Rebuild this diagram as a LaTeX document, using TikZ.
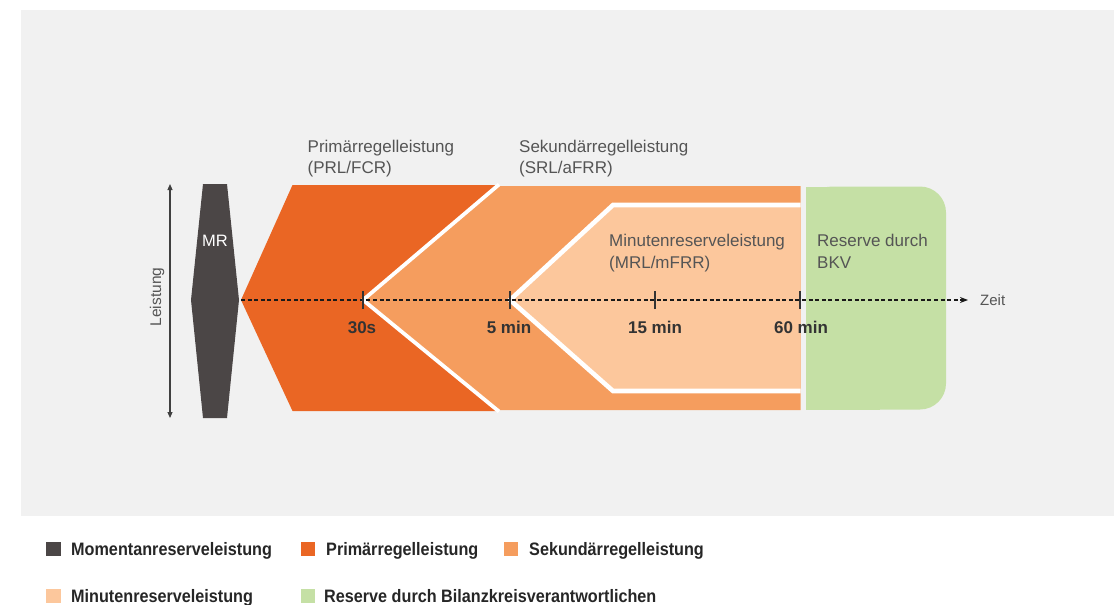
\documentclass[tikz,border=0pt]{standalone}
\usepackage{fontspec}
\setmainfont{Liberation Sans}
\newfontfamily\legfont[FakeStretch=0.9]{Liberation Sans}
\usetikzlibrary{arrows.meta}
\definecolor{bgc}{HTML}{F1F1F1}
\definecolor{mrc}{HTML}{4B4646}
\definecolor{prlc}{HTML}{EA6624}
\definecolor{srlc}{HTML}{F59D5E}
\definecolor{mrlc}{HTML}{FCC79C}
\definecolor{bkvc}{HTML}{C5E0A5}
\definecolor{labc}{HTML}{555555}
\definecolor{tickc}{HTML}{333333}
\tikzset{
  lab/.style={inner sep=0pt, anchor=north west, align=left, text=labc,
    font=\fontsize{17}{21.5}\selectfont},
  ticklab/.style={inner sep=0pt, anchor=base, text=tickc,
    font=\fontsize{17}{20}\selectfont\bfseries},
  tickmark/.style={draw=tickc, line width=2.4pt},
  sepline/.style={draw=white, line join=miter},
  legsq/.style={inner sep=0pt, minimum width=14.5pt, minimum height=14.5pt, anchor=north west},
  legtxt/.style={inner sep=0pt, anchor=base west, text=black!85,
    font=\legfont\fontsize{18}{20}\selectfont\bfseries},
}
\begin{document}
\begin{tikzpicture}[x=1pt,y=-1pt]
\useasboundingbox (0,0) rectangle (1120,605);
\fill[bgc] (21,10) rectangle (1114,516);

% shapes
\fill[mrc] (203,184) -- (227,184) -- (239,300) -- (227,418) -- (203,418) -- (191,300) -- cycle;
\fill[prlc] (292.5,185) -- (497,185) -- (363,300) -- (497,411) -- (292.5,411) -- (241,300) -- cycle;
\fill[srlc] (497,186) -- (800.7,186) -- (800.7,410) -- (497,410) -- (363,300) -- cycle;
\draw[sepline, line width=3.8pt] (499,184.5) -- (363,300) -- (499,411.5);
\fill[mrlc] (613,205) -- (800.7,205) -- (800.7,391) -- (613,391) -- (510,300) -- cycle;
\draw[sepline, line width=4.6pt] (800.7,205) -- (613,205) -- (510,300) -- (613,391) -- (800.7,391);
\fill[bkvc, rounded corners=26pt] (806,186.5) rectangle (946,409.5);
\fill[bkvc] (806,186.5) rectangle (880,409.5);

% MR label
\node[inner sep=0pt, anchor=base, text=white, font=\fontsize{16.5}{18}\selectfont] (mr) at (215,246.5) {MR};

% Leistung axis
\coordinate (ltop) at (170,184);
\coordinate (lbot) at (170,418);
\draw[draw=black!75, line width=1.1pt, {Triangle[length=6pt,width=5pt]}-{Triangle[length=6pt,width=5pt]}] (ltop) -- (lbot);
\node[inner sep=0pt, rotate=90, text=labc, font=\fontsize{15.5}{18}\selectfont] (leist) at (157,297) {Leistung};

% time axis
\coordinate (t0) at (241,300);
\coordinate (t1) at (363,300);
\coordinate (t2) at (510,300);
\coordinate (t3) at (655,300);
\coordinate (t4) at (800,300);
\coordinate (tend) at (968,300);
\draw[line width=1.4pt, draw=black!90, dash pattern=on 4pt off 2.6pt, -{Stealth[length=8pt,width=6pt]}] (t0) -- (tend);
\node[inner sep=0pt, anchor=west, text=labc, font=\fontsize{15}{18}\selectfont] (zeit) at (980,300) {Zeit};
\foreach \c in {t1,t2,t3,t4}{
  \draw[tickmark] ([yshift=-9pt]\c) -- ([yshift=9pt]\c);
}
\node[ticklab] (l30) at (362,333) {30s};
\node[ticklab] (l5) at (509,333) {5 min};
\node[ticklab] (l15) at (655,333) {15 min};
\node[ticklab] (l60) at (801,333) {60 min};

% labels
\node[lab] (prl) at (307.5,139.5) {Primärregelleistung\\(PRL/FCR)};
\node[lab] (srl) at (519,139.5) {Sekundärregelleistung\\(SRL/aFRR)};
\node[lab] (mrl) at (609,234) {Minutenreserveleistung\\(MRL/mFRR)};
\node[lab] (bkv) at (817,234) {Reserve durch\\BKV};

% legend
\node[legsq, fill=mrc] (q1) at (46,541.5) {};
\node[legtxt] (g1) at (71,555.5) {Momentanreserveleistung};
\node[legsq, fill=prlc] (q2) at (300.5,541.5) {};
\node[legtxt] (g2) at (326,555.5) {Primärregelleistung};
\node[legsq, fill=srlc] (q3) at (503.5,541.5) {};
\node[legtxt] (g3) at (529,555.5) {Sekundärregelleistung};
\node[legsq, fill=mrlc] (q4) at (46,588.5) {};
\node[legtxt] (g4) at (71,602.5) {Minutenreserveleistung};
\node[legsq, fill=bkvc] (q5) at (300.5,588.5) {};
\node[legtxt] (g5) at (324,602.5) {Reserve durch Bilanzkreisverantwortlichen};
\end{tikzpicture}
\end{document}
